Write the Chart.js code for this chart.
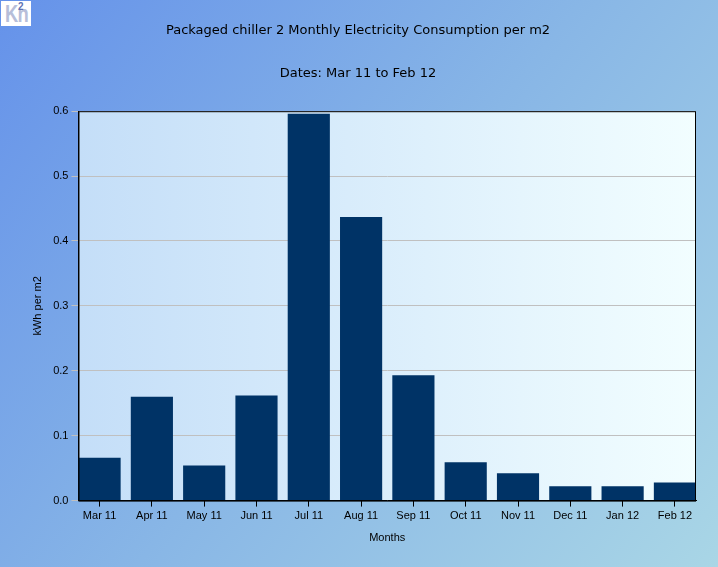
<!DOCTYPE html>
<html>
<head>
<meta charset="utf-8">
<script src="https://cdn.jsdelivr.net/npm/chart.js@4"></script>
<style>
    html, body { margin: 0; padding: 0; }
    body { width: 718px; height: 567px; position: relative; overflow: hidden; }
    #wrap { position: absolute; left: 0; top: 0; width: 718px; height: 567px; }
    #logo {
        position: absolute; left: 1px; top: 1px; width: 30px; height: 25px;
        background: #fff; overflow: hidden;
    }
    #logo .kn {
        position: absolute; left: 4px; top: 2px; color: #b7bed9;
        font: bold 23px/23px "Liberation Sans", Arial, sans-serif; letter-spacing: -1px;
        transform: scaleX(0.8); transform-origin: left top;
    }
    #logo .sq {
        position: absolute; left: 17px; top: 1px; color: #5f73b3;
        font: bold 10px/10px "Liberation Sans", Arial, sans-serif;
    }
</style>
</head>
<body>
<div id="wrap"><canvas id="chiller"></canvas></div>
<div id="logo"><span class="kn">Kn</span><span class="sq">2</span></div>
<script>
// Chart data
const months = ['Mar 11', 'Apr 11', 'May 11', 'Jun 11', 'Jul 11', 'Aug 11',
                'Sep 11', 'Oct 11', 'Nov 11', 'Dec 11', 'Jan 12', 'Feb 12'];
const kwhPerM2 = [0.066, 0.160, 0.054, 0.162, 0.596, 0.437,
                  0.193, 0.059, 0.042, 0.022, 0.022, 0.028];
const yTicks = [0, 0.1, 0.2, 0.3, 0.4, 0.5, 0.6];

// Page and plot area backgrounds
const backgrounds = {
    id: 'backgrounds',
    beforeDraw(chart) {
        const ctx = chart.ctx;
        const w = chart.width, h = chart.height;
        const g = ctx.createLinearGradient(0, 0, w, h);
        g.addColorStop(0, '#6592ea');
        g.addColorStop(0.5, '#88b6e6');
        g.addColorStop(1, '#a9d6e6');
        ctx.save();
        ctx.fillStyle = g;
        ctx.fillRect(0, 0, w, h);

        const a = chart.chartArea;
        const pg = ctx.createLinearGradient(a.left, 0, a.right, 0);
        pg.addColorStop(0, '#c4def8');
        pg.addColorStop(1, '#f2feff');
        ctx.fillStyle = pg;
        ctx.fillRect(a.left, a.top, a.right - a.left, a.bottom - a.top);
        ctx.restore();
    },
    afterDraw(chart) {
        const ctx = chart.ctx;
        const a = chart.chartArea;
        ctx.save();
        ctx.strokeStyle = '#000';
        ctx.lineWidth = 1;
        ctx.strokeRect(a.left + 0.5, a.top + 0.5, a.right - a.left - 1, a.bottom - a.top);
        ctx.restore();
    }
};

// bars sit flush against both ends of the plot, so use index positions on a linear axis
const barData = months.map((m, i) => ({ x: i, y: kwhPerM2[i] }));

const ctx = document.getElementById('chiller').getContext('2d');
window.chillerChart = new Chart(ctx, {
    type: 'bar',
    data: {
        datasets: [{
            label: 'kWh per m2',
            data: barData,
            backgroundColor: '#003366',
            borderWidth: 0,
            barPercentage: 0.806,
            categoryPercentage: 1.0
        }]
    },
    options: {
        responsive: true,
        maintainAspectRatio: false,
        animation: false,
        layout: {
            padding: { left: 20, right: 22, top: 0, bottom: 22 }
        },
        plugins: {
            legend: { display: false },
            tooltip: { enabled: false },
            title: {
                display: true,
                text: 'Packaged chiller 2 Monthly Electricity Consumption per m2',
                color: '#000',
                font: { family: 'DejaVu Sans', size: 13, weight: 'normal' },
                padding: { top: 23, bottom: 14 }
            },
            subtitle: {
                display: true,
                text: 'Dates: Mar 11 to Feb 12',
                color: '#000',
                font: { family: 'DejaVu Sans', size: 13, weight: 'normal' },
                padding: { top: 13, bottom: 30 }
            }
        },
        scales: {
            x: {
                type: 'linear',
                min: -0.403,
                max: months.length - 1 + 0.403,
                offset: false,
                afterBuildTicks: axis => {
                    axis.ticks = months.map((m, i) => ({ value: i }));
                },
                grid: {
                    offset: false,
                    drawOnChartArea: false,
                    color: '#000',
                    tickLength: 6
                },
                border: { color: '#000' },
                ticks: {
                    color: '#000',
                    font: { family: 'Liberation Sans', size: 11 },
                    padding: 3,
                    maxRotation: 0,
                    autoSkip: false,
                    callback: value => months[value]
                },
                title: {
                    display: true,
                    text: 'Months',
                    color: '#000',
                    font: { family: 'Liberation Sans', size: 11 },
                    padding: { top: 6, bottom: 0 }
                }
            },
            y: {
                min: 0,
                max: 0.6,
                afterBuildTicks: axis => {
                    axis.ticks = yTicks.map(v => ({ value: v }));
                },
                grid: {
                    color: '#c0c0c0',
                    tickLength: 7
                },
                border: { color: '#000' },
                ticks: {
                    color: '#000',
                    font: { family: 'Liberation Sans', size: 11 },
                    padding: 3,
                    callback: value => value.toFixed(1)
                },
                title: {
                    display: true,
                    text: 'kWh per m2',
                    color: '#000',
                    font: { family: 'Liberation Sans', size: 11 },
                    padding: { top: 11, bottom: 6 }
                }
            }
        }
    },
    plugins: [backgrounds]
});
</script>
</body>
</html>
